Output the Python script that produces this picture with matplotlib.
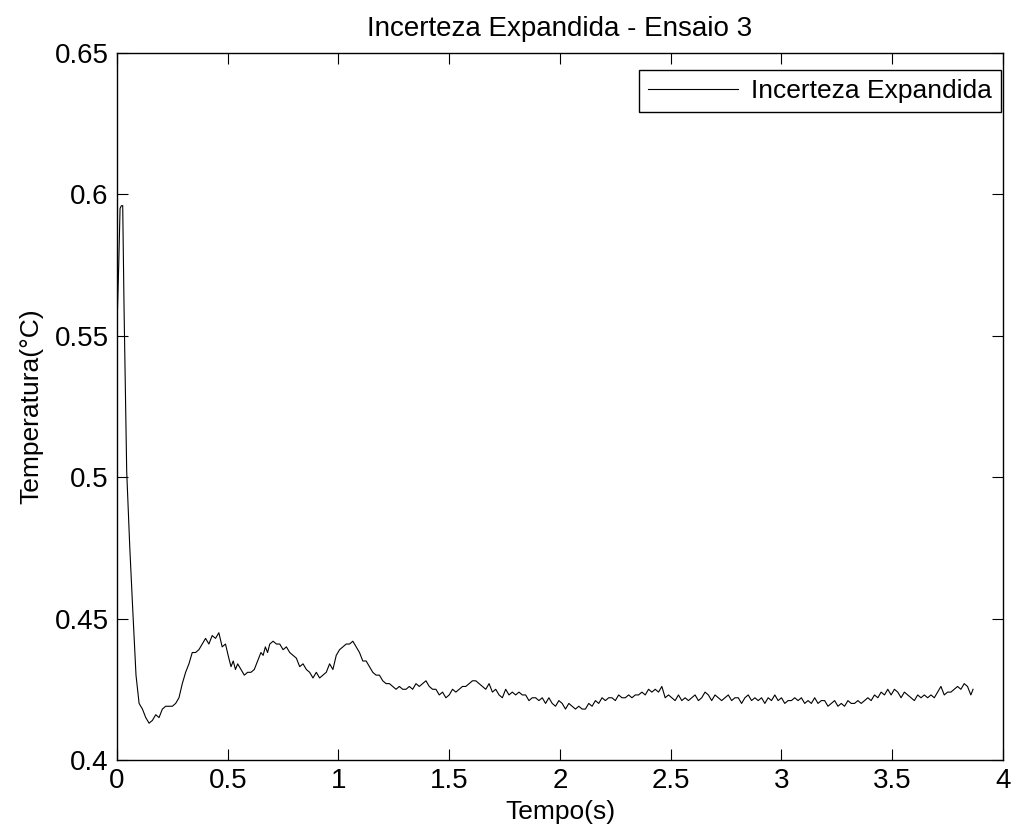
import matplotlib
matplotlib.use('Agg')
import matplotlib.pyplot as plt

plt.rcParams['font.family'] = ['Liberation Sans', 'DejaVu Sans']

# tempo (s) and incerteza expandida
tempo = [0.000, 0.008, 0.014, 0.020, 0.026, 0.032, 0.044, 0.058, 0.072, 0.086,
         0.100, 0.115, 0.130, 0.145, 0.160, 0.175, 0.190, 0.205, 0.220, 0.235,
         0.250, 0.265, 0.280, 0.295, 0.310, 0.325, 0.340, 0.355, 0.370, 0.385,
         0.400, 0.415, 0.430, 0.445, 0.460, 0.475, 0.490, 0.505, 0.515, 0.525,
         0.535, 0.545, 0.560, 0.575, 0.590, 0.605, 0.620, 0.635, 0.650, 0.660,
         0.670, 0.680, 0.690, 0.705, 0.720, 0.735, 0.750, 0.765, 0.780, 0.795,
         0.810, 0.825, 0.840, 0.855, 0.870, 0.885, 0.900, 0.915, 0.930, 0.945,
         0.960, 0.975, 0.990, 1.005, 1.020, 1.035, 1.050, 1.065, 1.080, 1.095,
         1.110, 1.125, 1.140, 1.155, 1.170, 1.185, 1.200, 1.215, 1.230, 1.245,
         1.260, 1.275, 1.290, 1.305, 1.320, 1.335, 1.350, 1.365, 1.380, 1.395,
         1.410, 1.425, 1.440, 1.455, 1.470, 1.485, 1.500, 1.515, 1.530, 1.545,
         1.560, 1.575, 1.590, 1.605, 1.620, 1.635, 1.650, 1.665, 1.680, 1.695,
         1.710, 1.725, 1.740, 1.755, 1.770, 1.785, 1.800, 1.815, 1.830, 1.845,
         1.860, 1.875, 1.890, 1.905, 1.920, 1.935, 1.950, 1.965, 1.980, 1.995,
         2.010, 2.025, 2.040, 2.055, 2.070, 2.085, 2.100, 2.115, 2.130, 2.145,
         2.160, 2.175, 2.190, 2.205, 2.220, 2.235, 2.250, 2.265, 2.280, 2.295,
         2.310, 2.325, 2.340, 2.355, 2.370, 2.385, 2.400, 2.415, 2.430, 2.445,
         2.460, 2.475, 2.490, 2.505, 2.520, 2.535, 2.550, 2.565, 2.580, 2.595,
         2.610, 2.625, 2.640, 2.655, 2.670, 2.685, 2.700, 2.715, 2.730, 2.745,
         2.760, 2.775, 2.790, 2.805, 2.820, 2.835, 2.850, 2.865, 2.880, 2.895,
         2.910, 2.925, 2.940, 2.955, 2.970, 2.985, 3.000, 3.015, 3.030, 3.045,
         3.060, 3.075, 3.090, 3.105, 3.120, 3.135, 3.150, 3.165, 3.180, 3.195,
         3.210, 3.225, 3.240, 3.255, 3.270, 3.285, 3.300, 3.315, 3.330, 3.345,
         3.360, 3.375, 3.390, 3.405, 3.420, 3.435, 3.450, 3.465, 3.480, 3.495,
         3.510, 3.525, 3.540, 3.555, 3.570, 3.585, 3.600, 3.615, 3.630, 3.645,
         3.660, 3.675, 3.690, 3.705, 3.720, 3.735, 3.750, 3.765, 3.780, 3.795,
         3.810, 3.825, 3.840, 3.855, 3.865]
incerteza = [0.553, 0.575, 0.595, 0.596, 0.596, 0.560, 0.502, 0.475, 0.452, 0.430,
             0.420, 0.418, 0.415, 0.413, 0.414, 0.416, 0.415, 0.418, 0.419, 0.419,
             0.419, 0.420, 0.422, 0.427, 0.431, 0.434, 0.438, 0.438, 0.439, 0.441,
             0.443, 0.441, 0.444, 0.443, 0.445, 0.440, 0.441, 0.436, 0.433, 0.435,
             0.432, 0.434, 0.432, 0.430, 0.431, 0.431, 0.432, 0.435, 0.438, 0.437,
             0.440, 0.438, 0.441, 0.442, 0.441, 0.441, 0.439, 0.440, 0.438, 0.437,
             0.436, 0.433, 0.434, 0.432, 0.431, 0.429, 0.431, 0.429, 0.430, 0.431,
             0.434, 0.432, 0.437, 0.439, 0.440, 0.441, 0.441, 0.442, 0.440, 0.438,
             0.435, 0.435, 0.433, 0.431, 0.430, 0.430, 0.428, 0.427, 0.427, 0.426,
             0.425, 0.426, 0.425, 0.425, 0.426, 0.425, 0.427, 0.426, 0.427, 0.428,
             0.426, 0.425, 0.425, 0.423, 0.424, 0.422, 0.423, 0.425, 0.424, 0.425,
             0.426, 0.426, 0.427, 0.428, 0.428, 0.427, 0.426, 0.425, 0.427, 0.424,
             0.425, 0.423, 0.422, 0.425, 0.423, 0.424, 0.423, 0.424, 0.423, 0.423,
             0.421, 0.422, 0.422, 0.421, 0.422, 0.420, 0.422, 0.420, 0.419, 0.421,
             0.420, 0.418, 0.420, 0.419, 0.418, 0.419, 0.418, 0.418, 0.420, 0.419,
             0.421, 0.420, 0.422, 0.421, 0.422, 0.422, 0.421, 0.423, 0.422, 0.422,
             0.423, 0.422, 0.423, 0.423, 0.424, 0.423, 0.425, 0.424, 0.425, 0.424,
             0.426, 0.422, 0.423, 0.422, 0.421, 0.423, 0.421, 0.422, 0.421, 0.422,
             0.423, 0.421, 0.422, 0.424, 0.423, 0.421, 0.423, 0.422, 0.421, 0.422,
             0.423, 0.421, 0.422, 0.422, 0.420, 0.422, 0.423, 0.421, 0.422, 0.421,
             0.422, 0.420, 0.422, 0.421, 0.423, 0.421, 0.422, 0.420, 0.421, 0.421,
             0.422, 0.421, 0.422, 0.420, 0.421, 0.420, 0.422, 0.420, 0.421, 0.421,
             0.419, 0.420, 0.421, 0.419, 0.420, 0.419, 0.421, 0.420, 0.420, 0.421,
             0.420, 0.421, 0.422, 0.421, 0.423, 0.422, 0.424, 0.423, 0.425, 0.423,
             0.425, 0.424, 0.422, 0.424, 0.423, 0.422, 0.421, 0.423, 0.422, 0.423,
             0.422, 0.423, 0.422, 0.424, 0.426, 0.423, 0.424, 0.424, 0.425, 0.426,
             0.425, 0.427, 0.426, 0.423, 0.425]

x_ticks = [0, 0.5, 1, 1.5, 2, 2.5, 3, 3.5, 4]
x_labels = ['0', '0.5', '1', '1.5', '2', '2.5', '3', '3.5', '4']
y_ticks = [0.4, 0.45, 0.5, 0.55, 0.6, 0.65]
y_labels = ['0.4', '0.45', '0.5', '0.55', '0.6', '0.65']

fig = plt.figure(figsize=(10.25, 8.38), dpi=100)
ax = fig.add_axes([0.1141, 0.0931, 0.8644, 0.8437])

ax.plot(tempo, incerteza, color='black', linewidth=0.8, label='Incerteza Expandida')

ax.set_xlim(0, 4)
ax.set_ylim(0.4, 0.65)
ax.set_xticks(x_ticks)
ax.set_xticklabels(x_labels)
ax.set_yticks(y_ticks)
ax.set_yticklabels(y_labels)
ax.tick_params(direction='in', length=8, width=0.8, top=True, right=True,
               labelsize=20, pad=6)
for s in ax.spines.values():
    s.set_linewidth(1.0)

ax.set_title('Incerteza Expandida - Ensaio 3', fontsize=20, pad=12)
ax.set_xlabel('Tempo(s)', fontsize=19, labelpad=4)
ax.set_ylabel('Temperatura(°C)', fontsize=19, labelpad=8)

leg = ax.legend(loc='upper right', bbox_to_anchor=(0.9977, 0.976),
                fontsize=19, fancybox=False, framealpha=1,
                edgecolor='black', handlelength=3.4, borderaxespad=0,
                borderpad=0.35, handletextpad=0.5)
leg.get_frame().set_linewidth(1.0)

fig.savefig('out.png', dpi=100)
